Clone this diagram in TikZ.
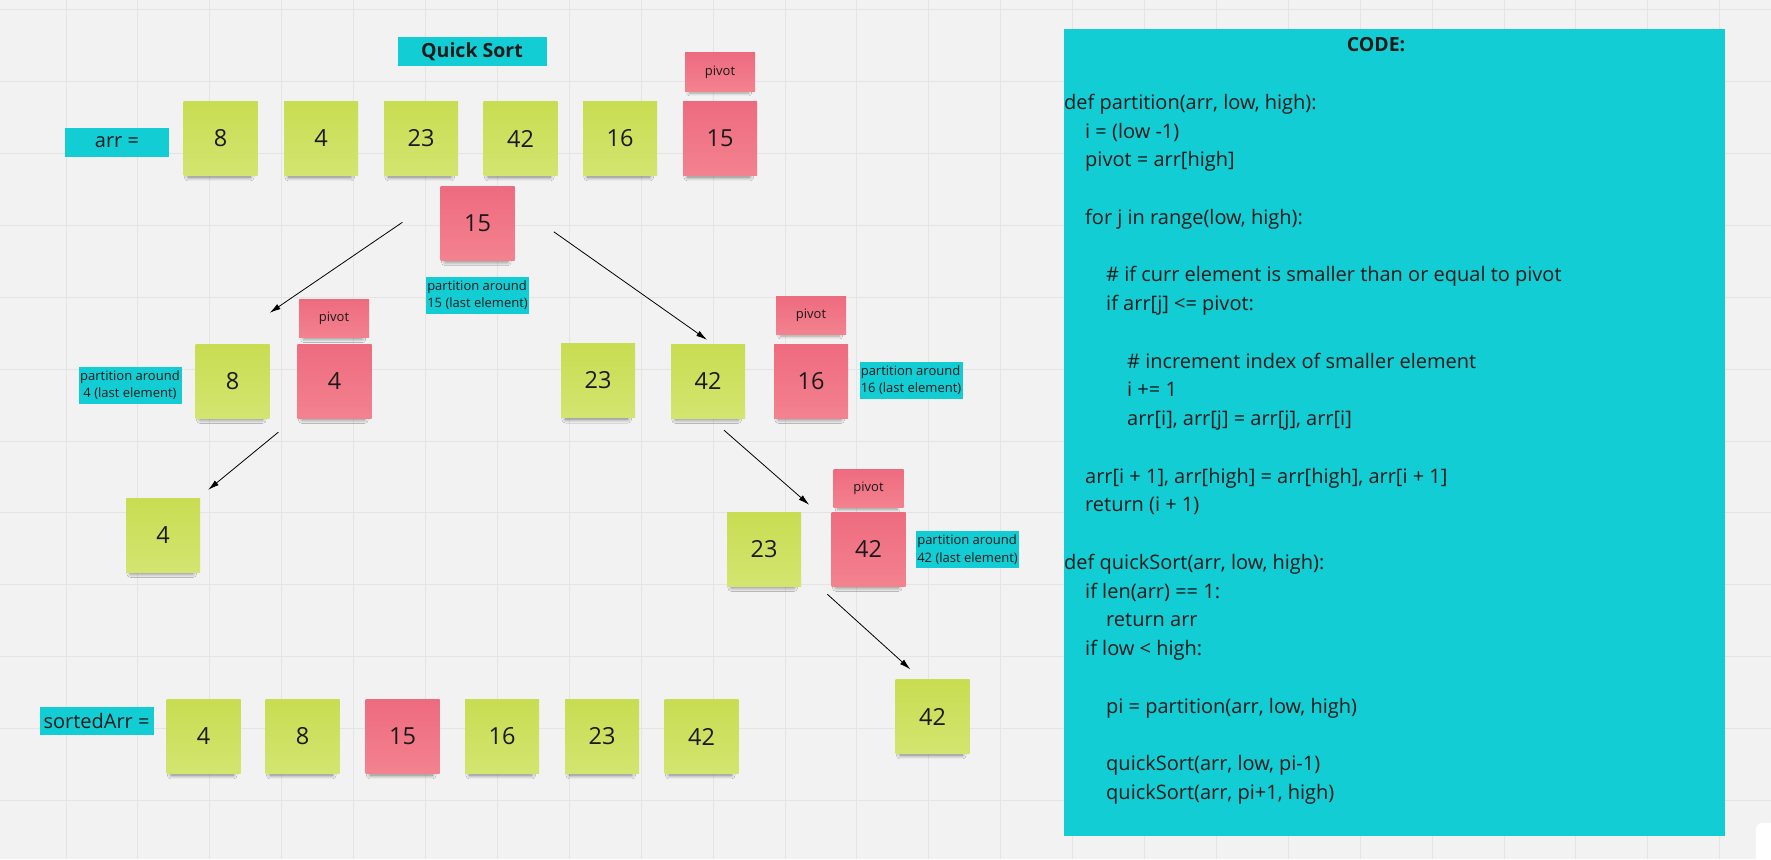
\documentclass[tikz,border=0pt]{standalone}
\usepackage{fontspec}
\setmainfont{Open Sans}
\usetikzlibrary{arrows.meta,shadows.blur}
\definecolor{bgc}{HTML}{F2F2F2}
\definecolor{gridc}{HTML}{E4E4E4}
\definecolor{cyanc}{HTML}{12CDD4}
\definecolor{gtop}{HTML}{C8DD52}
\definecolor{gbot}{HTML}{D3E570}
\definecolor{ptop}{HTML}{EE6B7F}
\definecolor{pbot}{HTML}{F3828F}
\definecolor{txt}{HTML}{1A1A1A}
\newcommand{\codeln}[3]{\node[codetxt] (cl#1) at ({1064+21*#2},{109.3+28.76*#1}) {#3};}
\tikzset{
  shad/.style={blur shadow={shadow xshift=-1.5pt,shadow yshift=-9pt,shadow scale=0.84,shadow blur steps=12,shadow blur radius=4.5pt,shadow opacity=50}},
  sticky/.style={shad,minimum width=74pt,minimum height=74pt,inner sep=0pt,text=txt,font=\fontsize{23.5}{28}\selectfont},
  gsticky/.style={sticky,top color=gtop,bottom color=gbot},
  psticky/.style={sticky,top color=ptop,bottom color=pbot},
  pivotbox/.style={blur shadow={shadow xshift=-1pt,shadow yshift=-6pt,shadow scale=0.85,shadow blur steps=10,shadow blur radius=3pt,shadow opacity=35},top color=ptop,bottom color=pbot,minimum width=70pt,minimum height=38pt,inner sep=0pt,text=txt,font=\fontsize{13}{16}\selectfont},
  cyanlab/.style={fill=cyanc,inner sep=0pt,text=txt,font=\fontsize{20}{24}\selectfont},
  partlab/.style={fill=cyanc,inner sep=1pt,minimum width=103pt,minimum height=37pt,text=txt,font=\fontsize{13}{17.3}\selectfont},
  codetxt/.style={anchor=base west,inner sep=0pt,text=txt,font=\fontsize{20}{24}\selectfont},
  conn/.style={-{Latex[length=11pt,width=6pt]},line width=0.8pt,black},
}
\begin{document}
\begin{tikzpicture}[x=1pt,y=-1pt]
\useasboundingbox (0,0) rectangle (1771,859);
\fill[bgc] (0,0) rectangle (1771,859);
\foreach \i in {0,...,23} \draw[gridc,line width=1pt] ({66+71.9*\i},0) -- ({66+71.9*\i},859);
\foreach \j in {0,...,11} \draw[gridc,line width=1pt] (0,{9.6+71.9*\j}) -- (1771,{9.6+71.9*\j});
\begin{scope}
\clip (0,0) rectangle (1771,859);
\fill[white,rounded corners=6pt] (1756,823) rectangle (1800,900);
\end{scope}

% title
\node[cyanlab,minimum width=149pt,minimum height=29pt,font=\bfseries\fontsize{19.5}{24}\selectfont] (title) at (472,52) {Quick Sort};

% row 1
\node[cyanlab,minimum width=104pt,minimum height=29pt] (arrlab) at (117,142.5) {arr =};
\node[pivotbox] (pv1) at (720,72) {pivot};
\node[gsticky] (a1) at (220.5,138.5) {8};
\node[gsticky] (a2) at (321,138.5) {4};
\node[gsticky] (a3) at (421,138.5) {23};
\node[gsticky] (a4) at (520.5,138.5) {42};
\node[gsticky] (a5) at (620,138.5) {16};
\node[psticky] (a6) at (720,138.5) {15};

% middle pivot 15
\node[psticky] (m15) at (477.6,223.3) {15};
\node[partlab,align=left] (lab15) at (477.5,295) {partition around\\15 (last element)};

% row 2
\node[partlab,align=center] (lab4) at (130,385) {partition around\\4 (last element)};
\node[gsticky] (r8) at (232.5,381) {8};
\node[pivotbox] (pv2) at (334,318.5) {pivot};
\node[psticky] (r4) at (334.5,381) {4};
\node[gsticky] (r23) at (598,380.6) {23};
\node[gsticky] (r42) at (708,381) {42};
\node[pivotbox] (pv3) at (811,315) {pivot};
\node[psticky] (r16) at (811,381) {16};
\node[partlab,align=left] (lab16) at (911,380) {partition around\\16 (last element)};

% row 3
\node[gsticky] (t4) at (163,535) {4};
\node[gsticky] (t23) at (764,549) {23};
\node[pivotbox] (pv4) at (868.5,488.5) {pivot};
\node[psticky] (t42p) at (868.5,549) {42};
\node[partlab,align=left] (lab42) at (967.5,549.5) {partition around\\42 (last element)};

% row 4
\node[gsticky] (f42) at (932.5,716.5) {42};

% sorted
\node[cyanlab,minimum width=114pt,minimum height=28pt] (sortlab) at (96.5,721) {sortedArr =};
\node[gsticky] (s1) at (203.5,736.5) {4};
\node[gsticky] (s2) at (302.5,736.5) {8};
\node[psticky] (s3) at (402.5,736.5) {15};
\node[gsticky] (s4) at (502,736.5) {16};
\node[gsticky] (s5) at (602,736.5) {23};
\node[gsticky] (s6) at (701.5,736.5) {42};

% arrows
\draw[conn] ([xshift=-38pt,yshift=1pt]m15.west) -- ([yshift=31pt]r8.north east);
\draw[conn] ([xshift=39pt,yshift=-8.5pt]m15.east) -- ([xshift=-1pt,yshift=4pt]r42.north);
\draw[conn] ([xshift=-19pt,yshift=-14pt]r4.south west) -- ([xshift=8pt,yshift=8pt]t4.north east);
\draw[conn] ([xshift=16pt,yshift=-12pt]r42.south) -- ([xshift=8pt,yshift=7pt]t23.north east);
\draw[conn] ([xshift=-4pt,yshift=-8pt]t42p.south west) -- ([xshift=15pt,yshift=10pt]f42.north west);

% code box
\node[fill=cyanc,minimum width=661pt,minimum height=807pt,inner sep=0pt] (code) at (1394.5,432.5) {};
\node[anchor=base,inner sep=0pt,text=txt,font=\bfseries\fontsize{19.5}{24}\selectfont] (codetitle) at (1376,51.5) {CODE:};
\codeln{0}{0}{def partition(arr, low, high):}
\codeln{1}{1}{i = (low -1)}
\codeln{2}{1}{pivot = arr[high]}
\codeln{4}{1}{for j in range(low, high):}
\codeln{6}{2}{\# if curr element is smaller than or equal to pivot}
\codeln{7}{2}{if arr[j] <= pivot:}
\codeln{9}{3}{\# increment index of smaller element}
\codeln{10}{3}{i += 1}
\codeln{11}{3}{arr[i], arr[j] = arr[j], arr[i]}
\codeln{13}{1}{arr[i + 1], arr[high] = arr[high], arr[i + 1]}
\codeln{14}{1}{return (i + 1)}
\codeln{16}{0}{def quickSort(arr, low, high):}
\codeln{17}{1}{if len(arr) == 1:}
\codeln{18}{2}{return arr}
\codeln{19}{1}{if low < high:}
\codeln{21}{2}{pi = partition(arr, low, high)}
\codeln{23}{2}{quickSort(arr, low, pi-1)}
\codeln{24}{2}{quickSort(arr, pi+1, high)}
\end{tikzpicture}
\end{document}
